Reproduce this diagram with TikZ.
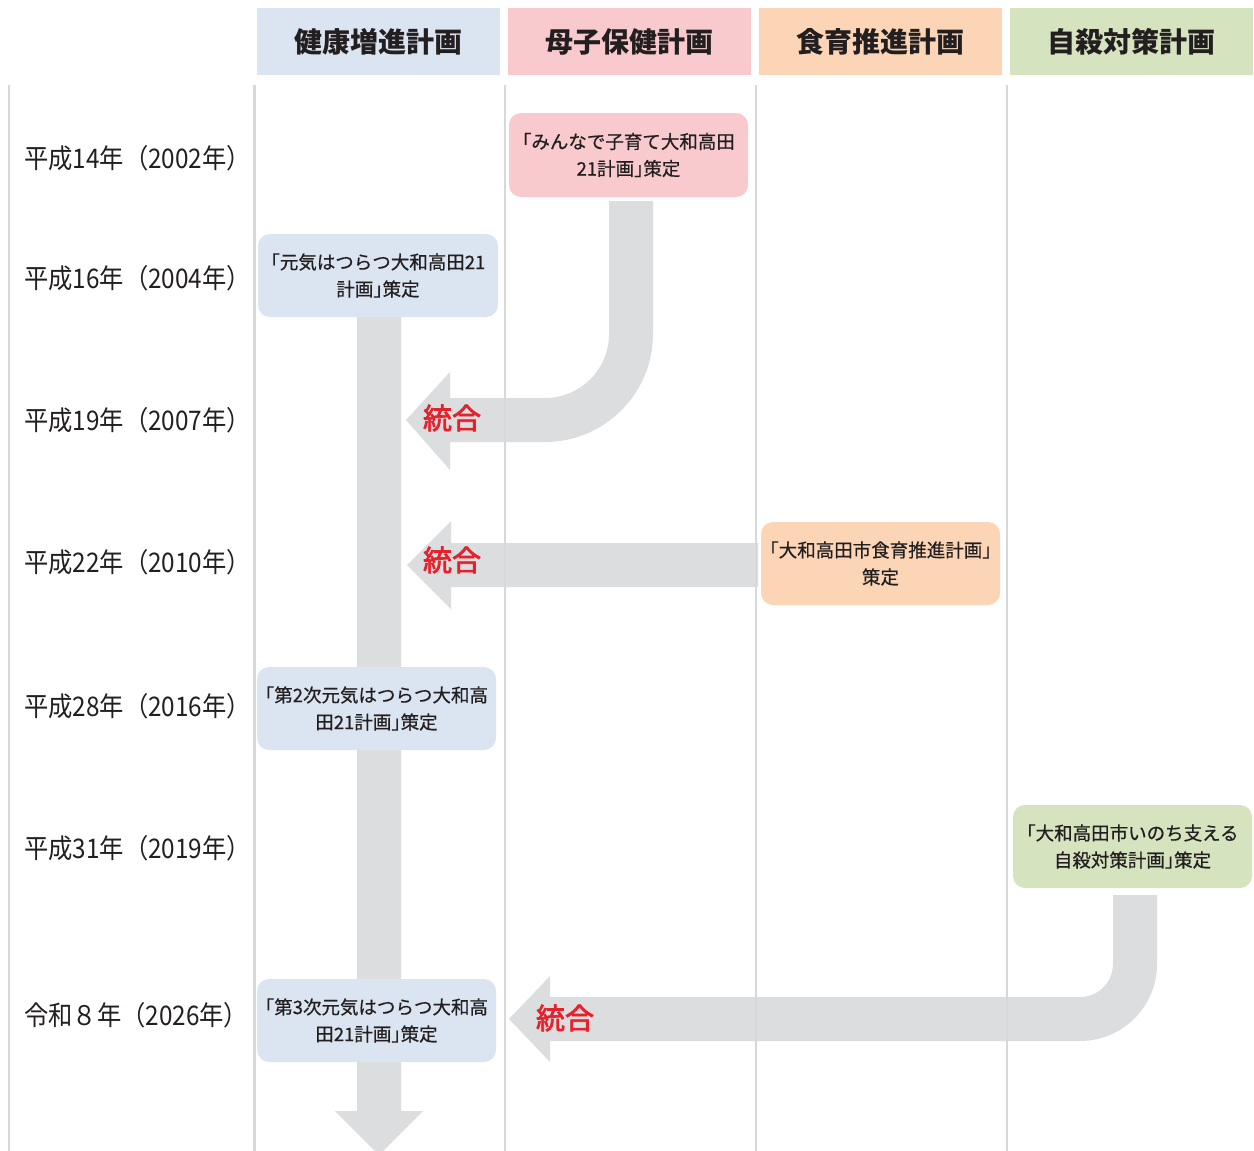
\documentclass[tikz,border=0pt]{standalone}
\usepackage{fontspec}
\newfontfamily\jp{Noto Sans CJK JP}
\newfontfamily\jpm[FakeBold=0.6]{Noto Sans CJK JP}
\newfontfamily\jpr[FakeBold=2.5]{Noto Sans CJK JP}
\definecolor{txt}{HTML}{231F20}
\definecolor{cblue}{HTML}{DAE5F1}
\definecolor{cpink}{HTML}{F8CACD}
\definecolor{corange}{HTML}{FBD5B5}
\definecolor{cgreen}{HTML}{D5E4BF}
\definecolor{arrowgray}{HTML}{DCDDDF}
\definecolor{linegray}{HTML}{D7D8DA}
\definecolor{mred}{HTML}{E6212B}
\tikzset{
  hdr/.style={rectangle, minimum width=243pt, minimum height=67pt, inner sep=0pt,
    font=\jp\bfseries\fontsize{28}{30}\selectfont, text=txt},
  plan/.style={rectangle, rounded corners=12pt, minimum width=239pt, minimum height=83pt,
    inner sep=0pt, align=center, font=\jpm\fontsize{18.5}{27}\selectfont, text=txt},
  yr/.style={inner sep=0pt, anchor=west, font=\jp\fontsize{27}{30}\selectfont, text=txt},
  merge/.style={inner sep=0pt, font=\jpr\fontsize{29}{30}\selectfont, text=mred},
  flow/.style={fill=arrowgray},
  divider/.style={draw=linegray, line width=2.5pt}
}
\newcommand{\yrtext}[1]{\scalebox{0.9}[1]{#1}}
\newcommand{\lbr}{\makebox[0.5em][r]{「}}
\newcommand{\rbr}{\makebox[0.5em][l]{」}}
\begin{document}
\begin{tikzpicture}[x=1pt,y=1pt]
\useasboundingbox (0,0) rectangle (1254,-1151);
\fill[white] (0,0) rectangle (1254,-1151);
\begin{scope}
\clip (0,0) rectangle (1254,-1151);

% headers
\node[hdr, fill=cblue]   (h1) at (378.5,-41.5)  {健康増進計画};
\node[hdr, fill=cpink]   (h2) at (629.5,-41.5)  {母子保健計画};
\node[hdr, fill=corange] (h3) at (880.5,-41.5)  {食育推進計画};
\node[hdr, fill=cgreen]  (h4) at (1131.5,-41.5) {自殺対策計画};

% flows (arrows)
% main vertical arrow
\fill[flow] (357,-317) -- (357,-1111) -- (335,-1111) -- (379,-1155) -- (423,-1111)
  -- (401,-1111) -- (401,-317) -- cycle;
% pink -> health
\fill[flow] (609,-201) -- (609,-334) arc[start angle=0, end angle=-90, radius=64]
  -- (450,-398) -- (450,-372) -- (406,-420) -- (450,-470) -- (450,-442) -- (545,-442)
  arc[start angle=-90, end angle=0, radius=108] -- (653,-201) -- cycle;
% orange -> health
\fill[flow] (758,-543) -- (451,-543) -- (451,-521) -- (407,-565) -- (451,-609)
  -- (451,-587) -- (758,-587) -- cycle;
% green -> health
\fill[flow] (1113,-895) -- (1113,-964) arc[start angle=0, end angle=-90, radius=33]
  -- (550,-997) -- (550,-976) -- (509,-1019) -- (550,-1062) -- (550,-1041) -- (1080,-1041)
  arc[start angle=-90, end angle=0, radius=77] -- (1157,-895) -- cycle;

% dividers
\coordinate (d0t) at (9,-85);     \coordinate (d0b) at (9,-1151);
\coordinate (d1t) at (254.5,-85); \coordinate (d1b) at (254.5,-1151);
\coordinate (d2t) at (505,-85);   \coordinate (d2b) at (505,-1151);
\coordinate (d3t) at (756,-85);   \coordinate (d3b) at (756,-1151);
\coordinate (d4t) at (1007,-85);  \coordinate (d4b) at (1007,-1151);
\draw[divider] (d0t) -- (d0b);
\draw[divider] (d1t) -- (d1b);
\draw[divider] (d2t) -- (d2b);
\draw[divider] (d3t) -- (d3b);
\draw[divider] (d4t) -- (d4b);

% plan boxes
\node[plan, fill=cpink, minimum height=84pt] (p1) at (628.5,-155) {\lbr みんなで子育て大和高田\\21計画\rbr 策定};
\node[plan, fill=cblue, minimum width=240pt] (b1) at (378,-275.5) {\lbr 元気はつらつ大和高田21\\計画\rbr 策定};
\node[plan, fill=corange] (o1) at (880.5,-563.5) {\lbr 大和高田市食育推進計画\rbr\\策定};
\node[plan, fill=cblue] (b2) at (376.5,-708.5) {\lbr 第2次元気はつらつ大和高\\田21計画\rbr 策定};
\node[plan, fill=cgreen] (g1) at (1132.5,-846.5) {\lbr 大和高田市いのち支える\\自殺対策計画\rbr 策定};
\node[plan, fill=cblue] (b3) at (376.5,-1020.5) {\lbr 第3次元気はつらつ大和高\\田21計画\rbr 策定};

% merge labels
\node[merge] (m1) at (452,-418) {統合};
\node[merge] (m2) at (452,-560) {統合};
\node[merge] (m3) at (565,-1018) {統合};

% year labels
\node[yr] (y1) at (24,-158)  {\yrtext{平成14年（2002年）}};
\node[yr] (y2) at (24,-278)  {\yrtext{平成16年（2004年）}};
\node[yr] (y3) at (24,-420)  {\yrtext{平成19年（2007年）}};
\node[yr] (y4) at (24,-562)  {\yrtext{平成22年（2010年）}};
\node[yr] (y5) at (24,-706)  {\yrtext{平成28年（2016年）}};
\node[yr] (y6) at (24,-848)  {\yrtext{平成31年（2019年）}};
\node[yr] (y7) at (24,-1015) {\yrtext{令和８年（2026年）}};
\end{scope}
\end{tikzpicture}
\end{document}
